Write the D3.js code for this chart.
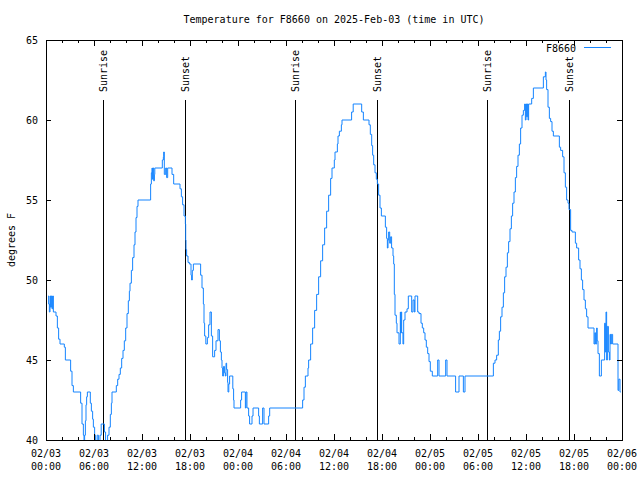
<!DOCTYPE html>
<html><head><meta charset="utf-8">
<script src="https://cdn.jsdelivr.net/npm/d3@7"></script>
<style>
body{margin:0;background:#fff}
text{font-family:"DejaVu Sans Mono","Liberation Mono",monospace;font-size:10px;fill:#000}
</style>
</head><body>
<svg id="chart" width="640" height="480"></svg>
<script>
const titleText = "Temperature for F8660 on 2025-Feb-03 (time in UTC)";
const seriesName = "F8660";
const yAxisLabel = "degrees F";
const yTickValues = [40, 45, 50, 55, 60, 65];
const startTime = Date.UTC(2025, 1, 3, 0, 0);
const endTime = Date.UTC(2025, 1, 6, 0, 0);
// hours since 02/03 00:00 UTC
const hours = [0.25,0.33,0.42,0.5,0.58,0.67,0.75,0.83,0.92,1.25,1.42,1.58,1.75,2.29,2.42,3.08,3.25,3.42,4.33,4.5,4.67,4.75,4.83,4.92,5.0,5.08,5.17,5.54,5.67,5.83,5.92,6.08,6.2,6.4,6.55,6.75,6.9,7.3,7.45,7.7,7.875,8.04,8.17,8.25,8.79,8.96,9.125,9.29,9.46,9.625,9.79,9.96,10.125,10.29,10.42,10.5,10.67,10.83,11.0,11.125,11.25,11.375,11.5,13.08,13.17,13.25,13.3,13.38,13.46,13.55,13.6,14.54,14.67,14.71,14.79,14.96,15.08,15.21,15.75,15.96,16.75,16.92,17.08,17.25,17.42,17.46,17.5,17.58,17.75,17.92,18.125,18.2,18.29,18.42,19.33,19.5,19.67,19.75,19.83,19.98,20.17,20.33,20.5,20.67,20.83,21.08,21.25,21.5,21.67,21.8,21.92,22.0,22.08,22.2,22.3,22.42,22.5,22.58,22.7,22.75,22.85,22.95,23.35,23.45,23.5,24.33,24.45,24.92,25.0,25.12,25.33,25.45,25.75,25.88,26.58,26.67,27.08,27.25,27.83,27.96,32.08,32.25,32.42,32.75,32.83,33.08,33.33,33.58,33.83,34.08,34.33,34.58,34.83,35.08,35.33,35.58,35.75,36.04,36.125,36.42,36.5,36.67,36.92,37.0,38.2,38.4,39.46,39.67,40.375,40.54,40.71,40.83,40.96,41.125,41.29,41.42,41.58,41.75,41.92,42.42,42.58,42.67,42.75,42.83,42.96,43.08,43.2,43.375,43.46,43.54,43.625,43.79,43.875,44.125,44.29,44.33,44.4,44.46,44.62,44.71,44.875,45.125,45.29,45.71,45.875,46.04,46.125,46.46,46.625,46.875,47.04,47.21,47.375,47.54,47.71,47.875,48.04,48.29,48.96,49.125,49.96,50.125,51.2,51.625,52.17,52.375,55.92,56.125,56.33,56.54,56.67,56.83,57.0,57.17,57.33,57.5,57.67,57.83,58.0,58.17,58.33,58.5,58.67,58.83,59.0,59.17,59.33,59.5,59.67,59.83,59.92,60.0,60.08,60.17,60.25,60.33,60.71,60.92,62.17,62.42,62.5,62.58,62.75,62.92,63.08,63.25,63.42,64.17,64.33,64.58,64.75,64.92,65.08,65.25,65.375,65.58,65.75,66.17,66.33,66.58,66.75,66.92,67.08,67.25,67.42,67.58,67.75,68.5,68.6,68.7,68.83,68.9,69.0,69.17,69.42,69.83,69.92,70.0,70.08,70.17,70.3,70.42,70.5,70.58,70.67,70.83,71.5,71.6,71.75,71.85];
const temps = [49,48.5,48,49,48.3,49,48.2,49,48,47.75,47.0,46.3,46,45.8,45,44.3,43.4,43,42.3,41.0,40.3,39.8,40.3,41.2,42.2,42.7,43,42.3,41.8,41.3,40.8,40.3,39.8,40.3,39.8,40.3,41,40.5,39.8,40.3,40.8,41.6,42.3,43,43.4,43.8,44.1,44.5,45.1,45.6,46.2,47.0,47.9,48.7,49.3,49.8,50.6,51.4,52.2,53.0,53.9,54.6,55,56,56.7,57,56.3,57,56.2,56.6,57,57.5,57.7,58,56.6,57,56.4,57,56.6,56,55.7,55.2,54.7,54.0,53.5,52.5,51.9,51.5,51.1,51,50.3,50,50.6,51,50.3,49.5,48.5,47.3,46.5,46,46.4,47.2,48,46.5,45.2,45.6,46.2,46.9,46.2,45.5,45,44.5,44,44.6,44.2,44,44.8,44.4,43.6,43,43.5,44,43.2,42.5,42,42.5,43,42,43,42,41.5,41,41.5,42,41.5,41,42,41,41.5,42,42.5,43.3,44,44.5,45,46,47,48.1,49.1,50.2,51.2,52.2,53.25,54.3,55.3,56.35,57,57.5,58,58.5,59,59.3,59.7,60,60.5,61,60.5,60,59.7,59.1,58.4,57.8,57.2,56.7,56.3,56,55.3,54.5,54,53.3,52.6,52,52.5,53,52.3,52.7,52,51.5,51,49.1,47.8,47.3,46.7,46,48,46.7,48,46.7,46,47.5,48,48.2,49,48,48.75,48,49,48,47.9,47.3,47,46.7,46.25,45.8,45.4,44.9,44.3,44,45,44,45,44,43,44,43,44,44.8,45,45.3,46.25,46.8,47.7,48.3,49.2,50.2,50.8,51.7,52.4,53.2,54.0,54.8,55.5,56.4,57.1,57.8,58.5,59.5,60.3,60.6,61,60,61,60.2,61,60,61,61.35,62,62.7,63,62.5,61.9,60.8,60.1,59.9,59.3,59,58.3,58.1,57.7,56.7,55.8,55.0,54.8,54.4,53.1,53,52.3,52,51.25,50.7,50,49.4,48.75,48.2,47.7,47,46,46.7,46,47,46.2,45.4,44,45,47.3,45.5,48,45,47.1,45.5,45,46.6,46,46.6,46,43.1,43.8,43,43];
const sunHours = [7.16, 17.41, 31.16, 41.42, 55.12, 65.42];
const sunLabels = ["Sunrise", "Sunset", "Sunrise", "Sunset", "Sunrise", "Sunset"];

const svg = d3.select("#chart");
const L = 46, R = 622, T = 40, B = 440;
const x = d3.scaleUtc().domain([new Date(startTime), new Date(endTime)]).range([L, R]);
const y = d3.scaleLinear().domain([40, 65]).range([B, T]);
const lineColor = "#1484ff";
const toDate = h => new Date(startTime + h * 3600000);

svg.append("defs").append("clipPath").attr("id", "plotclip")
  .append("rect").attr("x", L).attr("y", T).attr("width", R - L).attr("height", B - T);

svg.append("text").attr("x", (L + R) / 2).attr("y", 23).attr("text-anchor", "middle").text(titleText);

svg.append("text").attr("transform", `translate(11,${(T + B) / 2}) rotate(-90)`)
  .attr("text-anchor", "middle").attr("dy", "0.35em").text(yAxisLabel);

const sunG = svg.append("g");
sunHours.forEach((h, i) => {
  const xp = Math.round(x(toDate(h))) + 0.5;
  sunG.append("line").attr("x1", xp).attr("x2", xp).attr("y1", 100).attr("y2", B)
    .attr("stroke", "#000").attr("stroke-width", 1);
  sunG.append("text").attr("transform", `translate(${xp},92) rotate(-90)`)
    .attr("text-anchor", "start").attr("dy", "0.35em").text(sunLabels[i]);
});

const pts = hours.map((h, i) => [toDate(h), temps[i]]);
const line = d3.line().x(d => x(d[0])).y(d => y(d[1])).curve(d3.curveStepAfter);
svg.append("path").datum(pts).attr("d", line).attr("fill", "none")
  .attr("stroke", lineColor).attr("stroke-width", 1).attr("clip-path", "url(#plotclip)");

const tickHours = d3.utcHour.every(2);
const isMajor = d => d.getUTCHours() % 6 === 0;
const bottomAx = svg.append("g").attr("transform", `translate(0,${B})`)
  .call(d3.axisBottom(x).ticks(tickHours).tickSizeInner(-6).tickSizeOuter(0).tickFormat(""));
const topAx = svg.append("g").attr("transform", `translate(0,${T})`)
  .call(d3.axisTop(x).ticks(tickHours).tickSizeInner(-6).tickSizeOuter(0).tickFormat(""));
[bottomAx, topAx].forEach((g, k) => {
  g.select(".domain").remove();
  g.selectAll(".tick line").attr("y2", d => (k === 0 ? -1 : 1) * (isMajor(d) ? 6 : 3))
    .attr("shape-rendering", "crispEdges");
});
const leftAx = svg.append("g").attr("transform", `translate(${L},0)`)
  .call(d3.axisLeft(y).tickValues(yTickValues).tickSizeInner(-5).tickSizeOuter(0).tickPadding(8).tickFormat(d3.format("d")));
leftAx.select(".domain").remove();
leftAx.selectAll(".tick line").attr("shape-rendering", "crispEdges");
leftAx.selectAll("text").attr("font-size", null).attr("font-family", null);
const rightAx = svg.append("g").attr("transform", `translate(${R},0)`)
  .call(d3.axisRight(y).tickValues(yTickValues).tickSizeInner(-5).tickSizeOuter(0).tickFormat(""));
rightAx.select(".domain").remove();
rightAx.selectAll(".tick line").attr("shape-rendering", "crispEdges");

const fmtDate = d3.utcFormat("%m/%d"), fmtTime = d3.utcFormat("%H:%M");
const labelTicks = x.ticks(d3.utcHour.every(6));
const xl = svg.append("g");
labelTicks.forEach(t => {
  const tx = xl.append("text").attr("x", x(t)).attr("text-anchor", "middle");
  tx.append("tspan").attr("x", x(t)).attr("y", 457).text(fmtDate(t));
  tx.append("tspan").attr("x", x(t)).attr("y", 470).text(fmtTime(t));
});

svg.append("rect").attr("x", L).attr("y", T).attr("width", R - L).attr("height", B - T)
  .attr("fill", "none").attr("stroke", "#000").attr("shape-rendering", "crispEdges");

svg.append("text").attr("x", 576).attr("y", 52).attr("text-anchor", "end").text(seriesName);
svg.append("line").attr("x1", 584).attr("x2", 611).attr("y1", 47.5).attr("y2", 47.5)
  .attr("stroke", lineColor).attr("stroke-width", 1);
</script>
</body></html>
